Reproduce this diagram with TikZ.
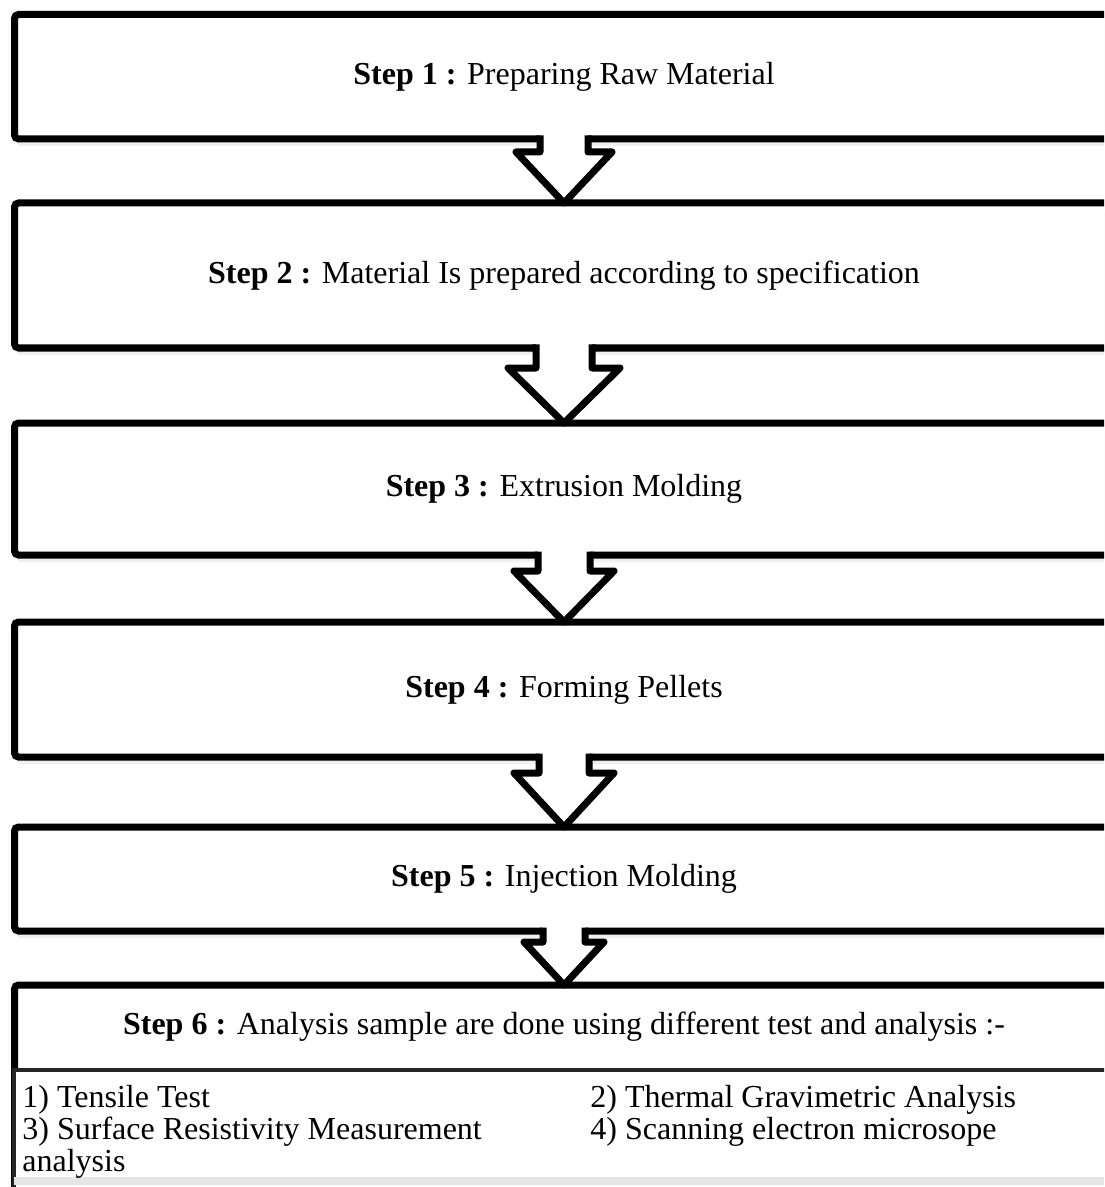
\documentclass[tikz,border=0pt]{standalone}
\usepackage{fontspec}
\setmainfont{Liberation Serif}
\usepackage{tikz}
\usetikzlibrary{calc,shadows,positioning}

% white arrow hanging from the bottom edge of one step to the top edge of the next
% #1 from, #2 to, #3 half stem width, #4 half head width, #5 stem length
\newcommand{\stepdown}[5]{%
  \fill[white] ($(#1.south)+(-#3,8)$) -- ($(#1.south)+(-#3,-#5)$)
    -- ($(#1.south)+(-#4,-#5)$) -- (#2.north) -- ($(#1.south)+(#4,-#5)$)
    -- ($(#1.south)+(#3,-#5)$) -- ($(#1.south)+(#3,8)$) -- cycle;
  \draw[stepflow] ($(#1.south)+(-#3,3.5)$) -- ($(#1.south)+(-#3,-#5)$)
    -- ($(#1.south)+(-#4,-#5)$) -- (#2.north) -- ($(#1.south)+(#4,-#5)$)
    -- ($(#1.south)+(#3,-#5)$) -- ($(#1.south)+(#3,3.5)$);
}

\begin{document}
\begin{tikzpicture}[x=0.5pt,y=0.5pt,
  stepbox/.style={draw=black,line width=3.5pt,rounded corners=2pt,fill=white,
    outer sep=0pt,minimum width=549.5pt,inner sep=0pt,
    font=\fontsize{16pt}{19pt}\selectfont,
    drop shadow={shadow xshift=1pt,shadow yshift=-3.5pt,opacity=0.12}},
  stepflow/.style={draw=black,line width=3.5pt,line join=round},
  steptext/.style={inner sep=0pt,font=\fontsize{16pt}{19pt}\selectfont},
  listbox/.style={draw=black!85,line width=2pt,fill=white,anchor=north west,
    minimum width=554pt,minimum height=66pt,inner sep=0pt},
  listtext/.style={inner sep=0pt,anchor=base west,font=\fontsize{16pt}{16pt}\selectfont}]
  \clip (0,0) rectangle (1104,-1187);

  % the steps
  \node[stepbox,minimum height=62.25pt] (s1) at (564,-76.75) {\textbf{Step 1 :} Preparing Raw Material};
  \node[stepbox,minimum height=72.5pt] (s2) at (564,-275.5) {\textbf{Step 2 :} Material Is prepared according to specification};
  \node[stepbox,minimum height=66pt] (s3) at (564,-489) {\textbf{Step 3 :} Extrusion Molding};
  \node[stepbox,minimum height=67.5pt] (s4) at (564,-689.5) {\textbf{Step 4 :} Forming Pellets};
  \node[stepbox,minimum height=52pt] (s5) at (564,-879) {\textbf{Step 5 :} Injection Molding};
  \node[stepbox,minimum height=107.5pt] (s6) at (564,-1092.5) {};
  \node[steptext] (s6title) at (564,-1027) {\textbf{Step 6 :} Analysis sample are done using different test and analysis :-};

  % list of tests
  \node[listbox] (s6list) at (12,-1068) {};
  \fill[black!10] (14,-1177) rectangle (1104,-1185);
  \node[listtext] (t1) at (22,-1107) {1) Tensile Test};
  \node[listtext] (t2) at (590,-1107) {2) Thermal Gravimetric Analysis};
  \node[listtext] (t3) at (22,-1139) {3) Surface Resistivity Measurement};
  \node[listtext] (t3b) at (22,-1171) {analysis};
  \node[listtext] (t4) at (590,-1139) {4) Scanning electron microsope};

  % arrows
  \stepdown{s1}{s2}{24}{48}{13}
  \stepdown{s2}{s3}{28}{56}{20}
  \stepdown{s3}{s4}{26}{50}{16}
  \stepdown{s4}{s5}{25}{50}{16}
  \stepdown{s5}{s6}{21}{40}{11}
\end{tikzpicture}
\end{document}
